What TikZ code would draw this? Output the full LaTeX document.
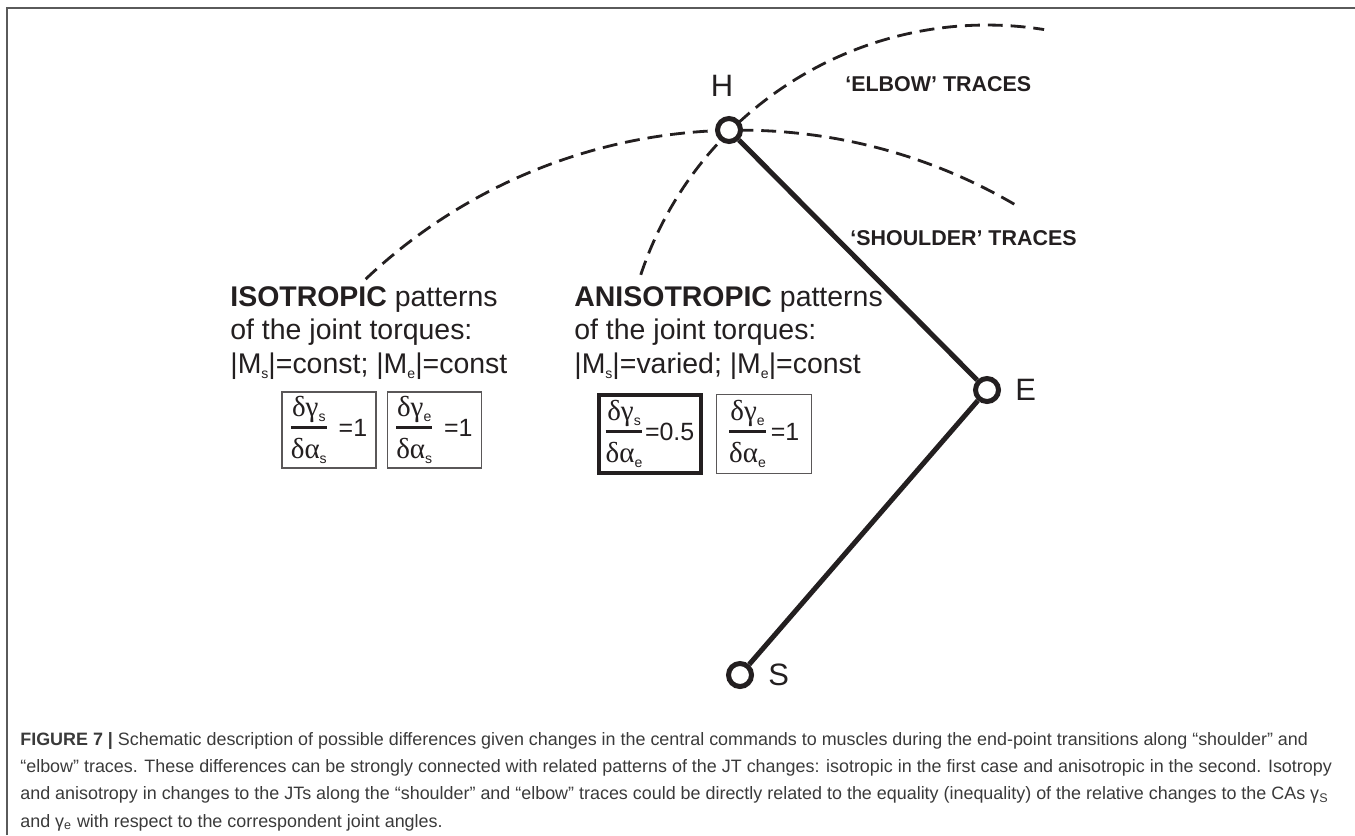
\documentclass[tikz,border=0pt]{standalone}
\usepackage{fontspec}
\setmainfont{Liberation Sans}
\newfontfamily\grkfont{Liberation Serif}
\usetikzlibrary{positioning,backgrounds}
\definecolor{ink}{HTML}{231F20}
\definecolor{capink}{HTML}{3A3A3A}
\definecolor{framegray}{HTML}{5A5A5A}
\newcommand{\sbs}[1]{\raisebox{-0.18em}{\normalfont\fontsize{8pt}{8pt}\selectfont #1}}
\newcommand{\gk}{\grkfont\fontsize{16.5pt}{18pt}\selectfont}
\newcommand{\frc}[2]{\ensuremath{\vcenter{\offinterlineskip
    \halign{\hfil##\hfil\cr
      \gk #1\cr
      \noalign{\kern2pt\hrule height 1.7pt\kern5pt}
      \gk #2\cr}}}}

\begin{document}
\begin{tikzpicture}[x=0.02cm,y=0.02cm,
    joint/.style={circle,draw=ink,fill=white,line width=2.85pt,
                  minimum size=0.46cm,inner sep=0pt},
    limb/.style={draw=ink,line width=2.85pt},
    trace/.style={draw=ink,line width=1.6pt,dash pattern=on 8.5pt off 4.5pt},
    lbl/.style={text=ink,inner sep=0pt,font=\fontsize{17.6pt}{20pt}\selectfont},
    tracename/.style={text=ink,inner sep=0pt,anchor=base west,
                      font=\bfseries\fontsize{12.2pt}{14pt}\selectfont},
    torquetext/.style={text=ink,inner sep=0pt,anchor=base west,align=left,
                       font=\fontsize{16.2pt}{18.8pt}\selectfont},
    ratiobox/.style={draw=ink!75,line width=0.8pt,text=ink,inner sep=0pt,
                     font=\fontsize{14.2pt}{16pt}\selectfont},
    captext/.style={text=capink,inner sep=0pt,anchor=base west,align=left,
                    font=\fontsize{10.2pt}{15.4pt}\selectfont}]
  \useasboundingbox (0,0) rectangle (1355,-835);
  \draw[framegray,line width=0.85pt] (7,-835) -- (7,-8) -- (1355,-8);

  % joints of the arm
  \node[joint] (H) at (729,-130) {};
  \node[joint] (E) at (987,-390) {};
  \node[joint] (S) at (740,-675) {};
  \node[lbl,above=0.38cm of H,xshift=-0.14cm] (Hname) {H};
  \node[lbl,right=0.28cm of E] (Ename) {E};
  \node[lbl,right=0.28cm of S] (Sname) {S};

  % traces of the hand
  \begin{scope}[on background layer]
    \draw[trace] ([shift={(133.4:10.9cm)}]S.center)
      arc[start angle=133.4,end angle=59.5,radius=10.9cm];
    \draw[trace] ([shift={(161.6:7.3cm)}]E.center)
      arc[start angle=161.6,end angle=81,radius=7.3cm];
  \end{scope}

  \path (H) edge[limb] (E)
        (E) edge[limb] (S);

  \node[tracename] (elbow) at (845,-91) {‘ELBOW’ TRACES};
  \node[tracename] (shoulder) at (850,-245) {‘SHOULDER’ TRACES};

  % base of a multi-line node = its last line
  \node[torquetext] (iso) at (230,-373)
    {\textbf{ISOTROPIC} patterns\\of the joint torques:\\|M\sbs{s}|=const; |M\sbs{e}|=const};
  \node[torquetext] (aniso) at (574,-373)
    {\textbf{ANISOTROPIC} patterns\\of the joint torques:\\|M\sbs{s}|=varied; |M\sbs{e}|=const};

  % ratios
  \node[ratiobox,minimum width=1.88cm,minimum height=1.52cm] (r1) at (329,-430)
    {\frc{δγ\sbs{s}}{δα\sbs{s}}\hspace{6.8pt}=1};
  \node[ratiobox,minimum width=1.88cm,minimum height=1.52cm,right=0.2cm of r1] (r2)
    {\frc{δγ\sbs{e}}{δα\sbs{s}}\hspace{6.8pt}=1};
  \node[ratiobox,draw=ink,line width=2.3pt,minimum width=2.04cm,minimum height=1.56cm] (r3) at (650,-434)
    {\frc{δγ\sbs{s}}{δα\sbs{e}}\hspace{1.5pt}=0.5};
  \node[ratiobox,minimum width=1.9cm,minimum height=1.58cm,right=0.26cm of r3] (r4)
    {\frc{δγ\sbs{e}}{δα\sbs{e}}\hspace{2.8pt}=1};

  \node[captext] (cap) at (20,-827)
    {\textbf{FIGURE 7 |} Schematic description of possible differences given changes in the central commands to muscles during the end-point transitions along “shoulder” and\\
     “elbow” traces. These differences can be strongly connected with related patterns of the JT changes: isotropic in the first case and anisotropic in the second. Isotropy\\
     and anisotropy in changes to the JTs along the “shoulder” and “elbow” traces could be directly related to the equality (inequality) of the relative changes to the CAs γ\textsubscript{S}\\
     and γ\textsubscript{e} with respect to the correspondent joint angles.};
\end{tikzpicture}
\end{document}
